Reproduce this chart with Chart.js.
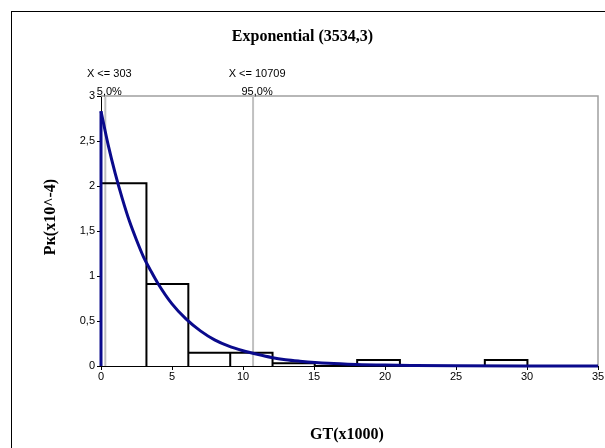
<!DOCTYPE html>
<html>
<head>
<meta charset="utf-8">
<script src="https://cdn.jsdelivr.net/npm/chart.js@4.4.1/dist/chart.umd.min.js"></script>
<style>
  html, body { margin: 0; padding: 0; background: #fff; overflow: hidden; }
  #wrap { position: relative; width: 605px; height: 448px; }
  #frame { position: absolute; left: 11px; top: 11px; width: 640px; height: 480px; border: 1px solid #000; box-sizing: border-box; }
  canvas { position: absolute; left: 0; top: 0; }
</style>
</head>
<body>
<div id="wrap">
  <div id="frame"></div>
  <canvas id="chart" width="605" height="448"></canvas>
</div>
<script>
// histogram: bin edges (GT x1000) and heights (Pk x10^-4)
const binEdges = [0, 3.2, 6.15, 9.1, 12.08, 15.05, 18.04, 21.05, 24.04, 27.03, 30.03];
const binHeights = [2.03, 0.91, 0.148, 0.148, 0.03, 0, 0.067, 0, 0, 0.067];

// fitted exponential
const curveX = [0, 0.5, 1, 1.5, 2, 2.5, 3, 3.5, 4, 5, 6, 7, 8, 9, 10, 11, 12, 13, 14, 16, 18, 20, 22, 25, 30, 35];
const curveY = [2.83, 2.46, 2.14, 1.86, 1.61, 1.4, 1.21, 1.06, 0.92, 0.69, 0.52, 0.39, 0.29, 0.22, 0.17, 0.13, 0.095, 0.07, 0.054, 0.03, 0.017, 0.01, 0.006, 0.002, 0.001, 0];

// percentile markers
const pctX = [0.303, 10.709];
const pctTop = ['X <= 303', 'X <= 10709'];
const pctBottom = ['5,0%', '95,0%'];

const xMax = 35;
const yMax = 3;

const titleText = 'Exponential (3534,3)';
const xTitle = 'GT(x1000)';
const yTitle = 'Pк(x10^-4)';

// outline of the histogram boxes
const histPoints = [];
binHeights.forEach((h, i) => {
  if (!h) return;
  const l = binEdges[i], r = binEdges[i + 1];
  histPoints.push({ x: l, y: 0 }, { x: l, y: h }, { x: r, y: h }, { x: r, y: 0 });
});

const curvePoints = curveX.map((x, i) => ({ x, y: curveY[i] }));

const pctSets = pctX.map(v => ({
  data: [{ x: v, y: 0 }, { x: v, y: yMax }],
  borderColor: '#c0c0c0',
  borderWidth: 2,
  pointRadius: 0,
  order: 3
}));

const decor = {
  id: 'decor',
  beforeDatasetsDraw(chart) {
    const { ctx, chartArea: a } = chart;
    ctx.save();
    ctx.strokeStyle = '#a0a0a0';
    ctx.lineWidth = 1.5;
    ctx.beginPath();
    ctx.moveTo(a.left, a.top);
    ctx.lineTo(a.right, a.top);
    ctx.lineTo(a.right, a.bottom);
    ctx.stroke();
    ctx.restore();
  },
  afterDraw(chart) {
    const { ctx } = chart;
    const xs = chart.scales.x;
    ctx.save();
    ctx.fillStyle = '#000';
    ctx.textAlign = 'center';
    ctx.textBaseline = 'middle';

    ctx.font = '11px "Liberation Sans", Arial, sans-serif';
    pctX.forEach((v, i) => {
      const px = xs.getPixelForValue(v) + 4;
      ctx.fillText(pctTop[i], px, 74);
      ctx.fillText(pctBottom[i], px, 92);
    });

    ctx.font = 'bold 16px "Liberation Serif", "Times New Roman", serif';
    ctx.fillText(titleText, 302.5, 37);
    ctx.fillText(xTitle, 347, 435);

    ctx.translate(51, 217);
    ctx.rotate(-Math.PI / 2);
    ctx.fillText(yTitle, 0, 0);
    ctx.restore();
  }
};

const tickFont = { family: '"Liberation Sans", Arial, sans-serif', size: 11 };

new Chart(document.getElementById('chart'), {
  type: 'line',
  data: {
    datasets: [
      {
        data: [{ x: 0, y: 0 }, { x: 0, y: curveY[0] }],
        borderColor: '#0a0a8c',
        borderWidth: 3,
        pointRadius: 0,
        clip: 4,
        order: 0
      },
      {
        data: curvePoints,
        borderColor: '#0a0a8c',
        borderWidth: 3,
        pointRadius: 0,
        cubicInterpolationMode: 'monotone',
        clip: 4,
        order: 1
      },
      {
        data: histPoints,
        borderColor: '#000',
        borderWidth: 2,
        pointRadius: 0,
        tension: 0,
        clip: 2,
        order: 2
      },
      ...pctSets
    ]
  },
  options: {
    responsive: false,
    animation: false,
    layout: { padding: { top: 96, right: 7, left: 0, bottom: 0 } },
    plugins: {
      legend: { display: false },
      tooltip: { enabled: false }
    },
    scales: {
      x: {
        type: 'linear',
        min: 0,
        max: xMax,
        ticks: { stepSize: 5, color: '#000', font: tickFont, padding: 0, maxRotation: 0 },
        grid: { drawOnChartArea: false, tickLength: 4, color: '#000' },
        border: { color: '#000', width: 1 },
        afterFit: s => { s.height = 82; }
      },
      y: {
        min: 0,
        max: yMax,
        ticks: {
          stepSize: 0.5,
          color: '#000',
          font: tickFont,
          padding: 2,
          callback: v => String(v).replace('.', ',')
        },
        grid: { drawOnChartArea: false, tickLength: 4, color: '#000' },
        border: { color: '#000', width: 1 },
        afterFit: s => { s.width = 101; }
      }
    }
  },
  plugins: [decor]
});
</script>
</body>
</html>
